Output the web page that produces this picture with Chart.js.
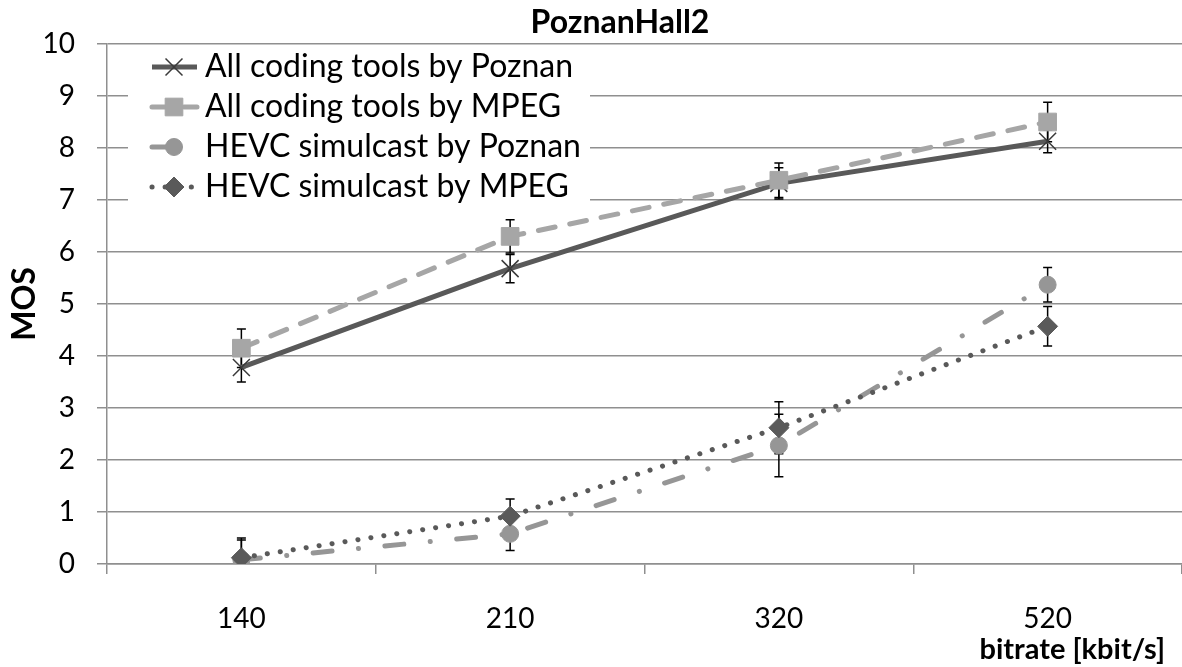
<!DOCTYPE html>
<html>
<head>
<meta charset="utf-8">
<title>PoznanHall2</title>
<script src="https://cdn.jsdelivr.net/npm/chart.js@4.4.1/dist/chart.umd.min.js"></script>
<style>
  html, body { margin: 0; padding: 0; background: #fff; overflow: hidden; }
  canvas { display: block; }
</style>
</head>
<body>
<canvas id="grafico" width="1182" height="667"></canvas>
<script>
// ================= DATOS =================
const categorias = ["140", "210", "320", "520"];
const tituloGrafico = "PoznanHall2";
const tituloEjeY = "MOS";
const tituloEjeX = "bitrate [kbit/s]";
const yMin = 0;
const yMax = 10;
const yPaso = 1;

const nombresSeries = [
    "All coding tools by Poznan",
    "All coding tools by MPEG",
    "HEVC simulcast by Poznan",
    "HEVC simulcast by MPEG"
];

const mosTodasPoznan = [3.78, 5.68, 7.32, 8.13];
const errTodasPoznan = [0.28, 0.27, 0.30, 0.22];

const mosTodasMpeg = [4.15, 6.30, 7.38, 8.50];
const errTodasMpeg = [0.37, 0.32, 0.33, 0.38];

const mosHevcPoznan = [0.08, 0.58, 2.28, 5.37];
const errHevcPoznan = [0.38, 0.32, 0.60, 0.33];

const mosHevcMpeg = [0.12, 0.92, 2.62, 4.57];
const errHevcMpeg = [0.38, 0.33, 0.50, 0.38];

// ================= ESTILO =================
const fuente = "Lato, 'Open Sans', 'Liberation Sans', sans-serif";
const colorGrilla = "#8f8f8f";

// ================= PLUGINS =================
const barrasError = {
    id: "barrasError",
    beforeDatasetsDraw(chart) {
        const { ctx, chartArea, scales: { x, y } } = chart;
        ctx.save();
        ctx.beginPath();
        ctx.rect(chartArea.left, chartArea.top, chartArea.width, chartArea.height);
        ctx.clip();
        ctx.strokeStyle = "#000";
        ctx.lineWidth = 1.5;
        chart.data.datasets.forEach(ds => {
            ds.data.forEach((v, i) => {
                const e = ds.errores[i];
                const px = x.getPixelForValue(i);
                const arriba = y.getPixelForValue(v + e);
                const abajo = y.getPixelForValue(v - e);
                ctx.beginPath();
                ctx.moveTo(px, arriba); ctx.lineTo(px, abajo);
                ctx.moveTo(px - 4.5, arriba); ctx.lineTo(px + 4.5, arriba);
                ctx.moveTo(px - 4.5, abajo); ctx.lineTo(px + 4.5, abajo);
                ctx.stroke();
            });
        });
        ctx.restore();
    }
};

const leyendaYTitulos = {
    id: "leyendaYTitulos",
    afterDraw(chart) {
        const { ctx } = chart;
        ctx.save();

        // caja blanca de la leyenda (tapa la grilla)
        ctx.fillStyle = "#fff";
        ctx.fillRect(128, 48, 462, 160);

        chart.data.datasets.forEach((ds, i) => {
            const yy = 67 + i * 40;

            ctx.save();
            ctx.strokeStyle = ds.borderColor;
            ctx.lineWidth = ds.borderWidth;
            ctx.lineCap = ds.borderCapStyle || "butt";
            ctx.setLineDash(ds.borderDash || []);
            ctx.beginPath();
            ctx.moveTo(152, yy);
            ctx.lineTo(197, yy);
            ctx.stroke();
            ctx.restore();

            ctx.save();
            ctx.fillStyle = ds.pointBackgroundColor;
            ctx.strokeStyle = ds.pointBorderColor;
            ctx.lineWidth = ds.pointBorderWidth;
            Chart.helpers.drawPoint(ctx, {
                pointStyle: ds.pointStyle,
                radius: ds.pointRadius,
                rotation: 0,
                borderWidth: ds.pointBorderWidth
            }, 174, yy);
            ctx.restore();

            ctx.fillStyle = "#000";
            ctx.font = "32px " + fuente;
            ctx.textAlign = "left";
            ctx.textBaseline = "middle";
            ctx.fillText(ds.label, 205, yy);
        });

        // titulo
        ctx.fillStyle = "#000";
        ctx.font = "bold 32px " + fuente;
        ctx.textAlign = "center";
        ctx.textBaseline = "middle";
        ctx.fillText(tituloGrafico, 620, 23);

        // titulo eje x
        ctx.font = "bold 29px " + fuente;
        ctx.textAlign = "right";
        ctx.fillText(tituloEjeX, 1165, 650);

        ctx.restore();
    }
};

// ================= GRAFICO =================
function serie(nombre, datos, errores, extra) {
    return Object.assign({
        label: nombre,
        data: datos,
        errores: errores,
        fill: false,
        tension: 0,
        borderWidth: 5,
        pointBorderWidth: 1
    }, extra);
}

const datasets = [
    serie(nombresSeries[0], mosTodasPoznan, errTodasPoznan, {
        borderColor: "#595959",
        pointStyle: "crossRot",
        pointRadius: 12,
        pointBorderColor: "#3a3a3a",
        pointBackgroundColor: "#3a3a3a",
        pointBorderWidth: 1.5,
        order: 4
    }),
    serie(nombresSeries[1], mosTodasMpeg, errTodasMpeg, {
        borderColor: "#a6a6a6",
        borderDash: [17, 15],
        borderCapStyle: "round",
        pointStyle: "rect",
        pointRadius: 12.5,
        pointBorderColor: "#a6a6a6",
        pointBackgroundColor: "#a6a6a6",
        order: 3
    }),
    serie(nombresSeries[2], mosHevcPoznan, errHevcPoznan, {
        borderColor: "#969696",
        borderDash: [19, 26.5, 0.1, 26.5],
        borderCapStyle: "round",
        pointStyle: "circle",
        pointRadius: 8.5,
        pointBorderColor: "#969696",
        pointBackgroundColor: "#969696",
        order: 2
    }),
    serie(nombresSeries[3], mosHevcMpeg, errHevcMpeg, {
        borderColor: "#595959",
        borderDash: [0.1, 13],
        borderCapStyle: "round",
        pointStyle: "rectRot",
        pointRadius: 10,
        pointBorderColor: "#5a5a5a",
        pointBackgroundColor: "#5a5a5a",
        order: 1
    })
];

new Chart(document.getElementById("grafico"), {
    type: "line",
    data: { labels: categorias, datasets },
    options: {
        responsive: false,
        animation: false,
        layout: {
            autoPadding: false,
            padding: { top: 44, left: 0, right: 0, bottom: 0 }
        },
        plugins: {
            legend: { display: false },
            title: { display: false },
            tooltip: { enabled: false }
        },
        scales: {
            x: {
                type: "category",
                offset: true,
                afterFit: s => {
                    s.height = 103;
                    s.paddingLeft = 0;
                    s.paddingRight = 0;
                },
                grid: {
                    display: true,
                    offset: true,
                    drawOnChartArea: false,
                    drawTicks: true,
                    tickLength: 10,
                    color: colorGrilla,
                    lineWidth: 1.5
                },
                border: { display: true, color: colorGrilla, width: 1.5 },
                ticks: {
                    color: "#000",
                    padding: 28,
                    font: { family: fuente, size: 28 }
                }
            },
            y: {
                min: yMin,
                max: yMax,
                afterFit: s => { s.width = 107; },
                grid: {
                    color: colorGrilla,
                    lineWidth: 1.5,
                    tickLength: 10
                },
                border: { display: true, color: colorGrilla, width: 1.5 },
                ticks: {
                    stepSize: yPaso,
                    color: "#000",
                    padding: 22,
                    font: { family: fuente, size: 28 }
                },
                title: {
                    display: true,
                    text: tituloEjeY,
                    color: "#000",
                    padding: { top: 5 },
                    font: { family: fuente, size: 32, weight: "bold" }
                }
            }
        }
    },
    plugins: [barrasError, leyendaYTitulos]
});
</script>
</body>
</html>
